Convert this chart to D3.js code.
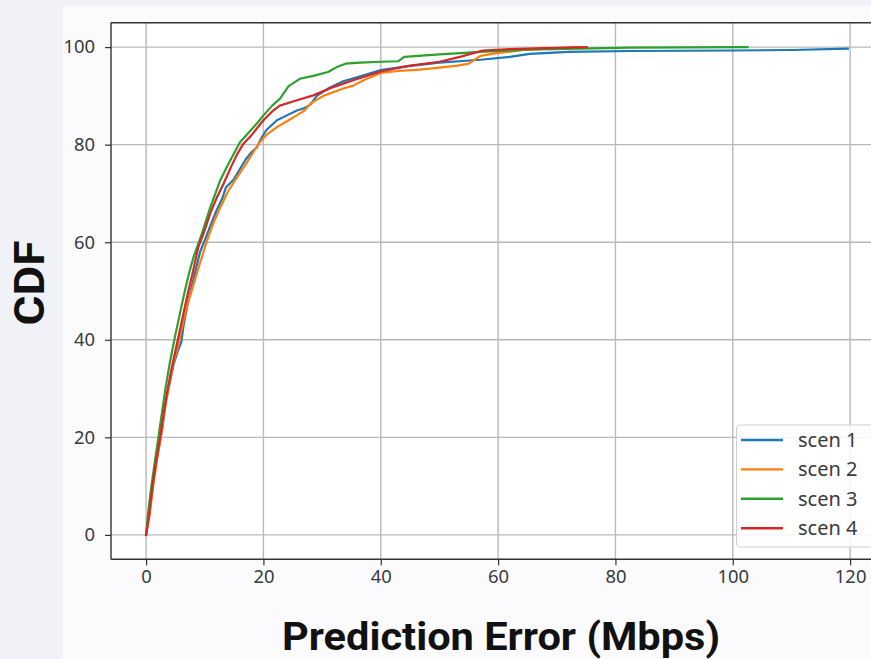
<!DOCTYPE html>
<html>
<head>
<meta charset="utf-8">
<script src="https://cdn.jsdelivr.net/npm/d3@7"></script>
<style>
  html, body { margin: 0; padding: 0; background: #f1f2f7; }
  svg { display: block; }
</style>
</head>
<body>
<svg id="chart" width="871" height="659"></svg>
<script>
// ---- Data ----
const seriesNames = ["scen 1", "scen 2", "scen 3", "scen 4"];
const seriesColors = ["#1f77b4", "#ff7f0e", "#2ca02c", "#d62728"];

const scen1 = [[0,0],[0.5,4],[1,9],[1.6,14],[2.2,18],[2.8,22],[3.3,27],[4,31],[4.7,35],[5.5,38],[6,39.5],[6.4,43],[7.2,48],[8,52],[9.2,58],[10.2,61],[11,63.5],[12,66.5],[13,69],[13.6,71.2],[14.9,72.8],[16,75],[17,77],[18,78.5],[18.9,79.5],[19.5,81],[20.5,83],[22.3,85],[24,86],[25.7,87],[27,87.5],[28,88.2],[29.1,90],[31,91.5],[33.6,93],[36.5,94],[40,95.3],[44,96],[50,96.8],[57,97.4],[62,98],[65.4,98.6],[72,99],[82.5,99.2],[100,99.3],[110,99.4],[119.6,99.7]];
const scen2 = [[0,0],[0.6,4],[1.2,10],[1.8,15],[2.5,20],[3.1,25],[3.8,30],[4.6,35],[5.5,39],[6.2,43],[7,47],[8,51],[9,55],[10.3,60],[11.5,64],[12.6,67],[14,70.5],[15.5,73.3],[17,76],[18.3,78.5],[19.4,80.5],[20.5,82],[22.3,83.6],[24,84.8],[25.7,86],[27,87],[28,88.4],[30.2,90],[32,90.8],[33.6,91.5],[35.3,92.1],[37.6,93.5],[40,94.7],[43,95.1],[46.7,95.4],[50,95.8],[53,96.2],[55,96.6],[57,98.2],[60,98.8],[65,99.5],[70,99.8],[74,100]];
const scen3 = [[0,0],[0.4,5],[0.9,10],[1.5,15],[2.1,20],[2.7,25],[3.3,30],[4,35],[4.9,40.5],[5.7,45],[6.6,50],[7.4,54],[8.1,57],[9.5,61.7],[10.9,67],[12.6,72.6],[14,76],[16,80.5],[17.5,82.5],[19,84.5],[20,86],[21.5,88],[22.8,89.4],[24.3,92],[26.2,93.5],[28.5,94.1],[31,94.9],[32.5,95.9],[34,96.6],[36.5,96.8],[40,97],[43,97.1],[44,98],[50,98.5],[57,99],[65,99.5],[82.5,99.9],[102.5,100]];
const scen4 = [[0,0],[0.5,4],[1.1,10],[1.7,15],[2.4,20],[3,25],[3.7,30],[4.5,35],[5.5,40.5],[6.3,45],[7.2,50],[8,54],[8.9,59],[10,62.5],[10.9,65.8],[12,69],[13.2,72],[14.5,75.5],[15.5,78],[16.6,80.2],[18,82],[20,85],[21.5,86.8],[22.8,88],[25.7,89.1],[28.5,90.1],[31.9,91.8],[35.3,93.2],[40,95],[45,96.2],[50,97],[53.5,98],[57.4,99.3],[62,99.6],[68,99.8],[75.1,100]];

const xTicks = [0, 20, 40, 60, 80, 100, 120];
const yTicks = [0, 20, 40, 60, 80, 100];
const xTitle = "Prediction Error (Mbps)";
const yTitle = "CDF";

// ---- Layout ----
const svg = d3.select("#chart");
const W = 871, H = 659;
const plot = { left: 111, top: 22.7, bottom: 559.3 };

const x = d3.scaleLinear().domain([-5.98, 125.6]).range([plot.left, plot.left + 131.58 * 5.867]);
const y = d3.scaleLinear().domain([-5, 105]).range([plot.bottom, plot.top]);

const defs = svg.append("defs");
defs.append("clipPath").attr("id", "figclip")
  .append("rect").attr("x", 63).attr("y", 6).attr("width", W - 63).attr("height", H - 6);
defs.append("clipPath").attr("id", "plotclip")
  .append("rect").attr("x", plot.left).attr("y", plot.top)
  .attr("width", W - plot.left).attr("height", plot.bottom - plot.top);

const fig = svg.append("g").attr("clip-path", "url(#figclip)");
fig.append("rect").attr("x", 63).attr("y", 6).attr("width", W - 63).attr("height", H - 6).attr("fill", "#fbfbfd");

// plot background
fig.append("rect").attr("x", plot.left).attr("y", plot.top)
  .attr("width", W - plot.left).attr("height", plot.bottom - plot.top).attr("fill", "#ffffff");

// gridlines
const grid = fig.append("g").attr("clip-path", "url(#plotclip)");
grid.selectAll("line.gx").data(xTicks).join("line")
  .attr("x1", d => x(d)).attr("x2", d => x(d))
  .attr("y1", plot.top).attr("y2", plot.bottom)
  .attr("stroke", "#b9b9b9").attr("stroke-width", 1.4);
grid.selectAll("line.gy").data(yTicks).join("line")
  .attr("x1", plot.left).attr("x2", W)
  .attr("y1", d => y(d)).attr("y2", d => y(d))
  .attr("stroke", "#b9b9b9").attr("stroke-width", 1.4);

// lines
const line = d3.line().x(d => x(d[0])).y(d => y(d[1]));
const allSeries = [scen1, scen2, scen3, scen4];
const lines = fig.append("g").attr("clip-path", "url(#plotclip)");
allSeries.forEach((s, i) => {
  lines.append("path").datum(s).attr("d", line)
    .attr("fill", "none").attr("stroke", seriesColors[i])
    .attr("stroke-width", 2.2).attr("stroke-linejoin", "round").attr("stroke-linecap", "square");
});

// axes
const tickFont = "'Noto Sans', 'DejaVu Sans', sans-serif";
const xAxis = fig.append("g").attr("transform", `translate(0,${plot.bottom})`)
  .call(d3.axisBottom(x).tickValues(xTicks).tickSize(6).tickPadding(5).tickFormat(d3.format("d")));
const yAxis = fig.append("g").attr("transform", `translate(${plot.left},0)`)
  .call(d3.axisLeft(y).tickValues(yTicks).tickSize(6).tickPadding(10).tickFormat(d3.format("d")));
[xAxis, yAxis].forEach(a => {
  a.select(".domain").remove();
  a.selectAll(".tick line").attr("stroke", "#333").attr("stroke-width", 1.2);
  a.selectAll(".tick text").attr("fill", "#3a3a3a").style("font-family", tickFont).style("font-size", "18.4px");
});

// spines
fig.append("line").attr("x1", plot.left).attr("x2", plot.left).attr("y1", plot.top).attr("y2", plot.bottom)
  .attr("stroke", "#333").attr("stroke-width", 1.4);
fig.append("line").attr("x1", plot.left).attr("x2", W).attr("y1", plot.bottom).attr("y2", plot.bottom)
  .attr("stroke", "#333").attr("stroke-width", 1.4);
fig.append("line").attr("x1", plot.left).attr("x2", W).attr("y1", plot.top).attr("y2", plot.top)
  .attr("stroke", "#333").attr("stroke-width", 1.4);

// legend
const lg = fig.append("g");
lg.append("rect").attr("x", 736.5).attr("y", 425).attr("width", 150).attr("height", 122)
  .attr("rx", 4).attr("fill", "rgba(255,255,255,0.85)").attr("stroke", "#d0d0d0").attr("stroke-width", 1.2);
seriesNames.forEach((n, i) => {
  const yy = 440 + i * 29.4;
  lg.append("line").attr("x1", 741).attr("x2", 783).attr("y1", yy).attr("y2", yy)
    .attr("stroke", seriesColors[i]).attr("stroke-width", 2.4);
  lg.append("text").attr("x", 798).attr("y", yy + 7).text(n)
    .attr("fill", "#3a3a3a").style("font-family", tickFont).style("font-size", "20px");
});

// axis titles
svg.append("text").attr("x", 501).attr("y", 650).attr("text-anchor", "middle")
  .attr("textLength", 438).attr("lengthAdjust", "spacingAndGlyphs")
  .style("font-family", "Roboto, 'Noto Sans', sans-serif").style("font-weight", 700).style("font-size", "38px")
  .attr("fill", "#111").text(xTitle);
svg.append("text").attr("transform", "translate(44,283) rotate(-90)").attr("text-anchor", "middle")
  .attr("textLength", 85).attr("lengthAdjust", "spacingAndGlyphs")
  .style("font-family", "Roboto, 'Noto Sans', sans-serif").style("font-weight", 700).style("font-size", "42px")
  .attr("fill", "#111").text(yTitle);
</script>
</body>
</html>
